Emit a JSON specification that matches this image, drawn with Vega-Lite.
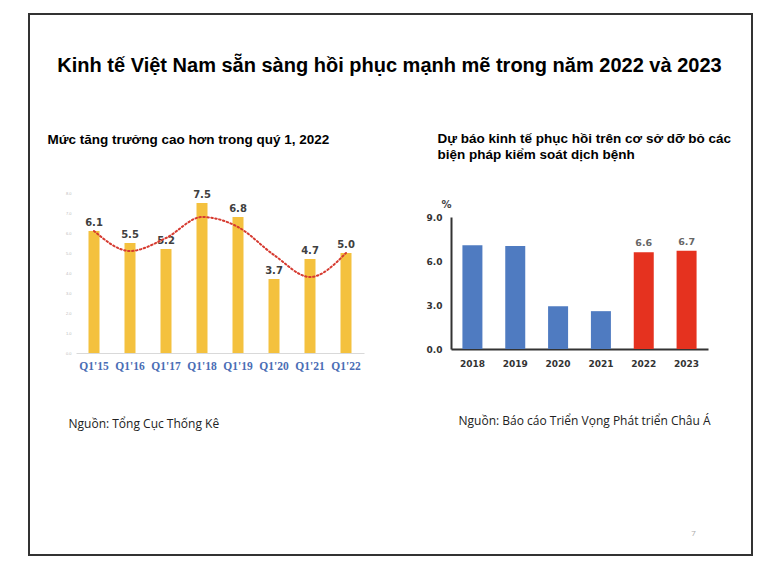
{
  "$schema": "https://vega.github.io/schema/vega-lite/v6.json",
  "width": 765,
  "height": 562,
  "padding": 0,
  "autosize": "none",
  "background": "white",
  "config": {
    "view": {"stroke": null},
    "axis": {"grid": false, "ticks": false}
  },
  "title": {
    "text": "Kinh tế Việt Nam sẵn sàng hồi phục mạnh mẽ trong năm 2022 và 2023",
    "font": "Liberation Sans",
    "fontSize": 20,
    "fontWeight": "bold",
    "color": "#000000",
    "anchor": "middle",
    "frame": "group",
    "offset": -76,
    "dx": 7
  },
  "datasets": {
    "frame": [{"lo": 0, "hi": 1}],
    "left": [
      {"q": "Q1'15", "v": 6.1, "trend": 6.1},
      {"q": "Q1'16", "v": 5.5, "trend": 5.1},
      {"q": "Q1'17", "v": 5.2, "trend": 5.75},
      {"q": "Q1'18", "v": 7.5, "trend": 6.8},
      {"q": "Q1'19", "v": 6.8, "trend": 6.3},
      {"q": "Q1'20", "v": 3.7, "trend": 4.9},
      {"q": "Q1'21", "v": 4.7, "trend": 3.8},
      {"q": "Q1'22", "v": 5.0, "trend": 5.0}
    ],
    "right": [
      {"year": "2018", "v": 7.08, "kind": "actual"},
      {"year": "2019", "v": 7.02, "kind": "actual"},
      {"year": "2020", "v": 2.91, "kind": "actual"},
      {"year": "2021", "v": 2.58, "kind": "actual"},
      {"year": "2022", "v": 6.6, "kind": "forecast"},
      {"year": "2023", "v": 6.7, "kind": "forecast"}
    ]
  },
  "layer": [
    {
      "data": {"name": "frame"},
      "mark": {"type": "rect", "fillOpacity": 0, "stroke": "#333333", "strokeWidth": 2},
      "encoding": {
        "x": {
          "field": "lo", "type": "quantitative",
          "scale": {"domain": [0, 1], "range": [29, 752], "nice": false, "zero": false},
          "axis": {
            "orient": "bottom", "offset": 0, "labels": false, "domain": false, "ticks": false,
            "title": "7", "titleX": 693, "titleY": -29, "titleAnchor": "start", "titleAlign": "center", "titleBaseline": "middle",
            "titleFont": "Open Sans", "titleFontSize": 8, "titleFontWeight": "normal", "titleColor": "#aaaaaa"
          }
        },
        "x2": {"field": "hi"},
        "y": {
          "field": "lo", "type": "quantitative",
          "scale": {"domain": [0, 1], "range": [555, 14], "nice": false, "zero": false},
          "axis": {
            "orient": "left", "offset": 0, "labels": false, "domain": false, "ticks": false,
            "title": ["Dự báo kinh tế phục hồi trên cơ sở dỡ bỏ các", "biện pháp kiểm soát dịch bệnh"],
            "titleX": 437, "titleY": 131, "titleAngle": 0, "titleAlign": "left", "titleBaseline": "top",
            "titleLineHeight": 16.5,
            "titleFont": "Liberation Sans", "titleFontSize": 13.5, "titleFontWeight": "bold", "titleColor": "#000000"
          }
        },
        "y2": {"field": "hi"}
      }
    },
    {
      "data": {"name": "left"},
      "encoding": {
        "x": {
          "field": "q", "type": "nominal", "sort": null,
          "scale": {"type": "band", "range": [76, 364], "paddingInner": 0, "paddingOuter": 0},
          "axis": {
            "orient": "bottom", "offset": -209, "labelAngle": 0, "labelPadding": 7,
            "labelFont": "Liberation Serif", "labelFontSize": 11.5, "labelFontWeight": "bold", "labelColor": "#4a6db5",
            "domainColor": "#d9d9d9", "domainWidth": 1,
            "title": "Nguồn: Tổng Cục Thống Kê", "titleX": 68, "titleY": 70, "titleAnchor": "start",
            "titleAlign": "left", "titleBaseline": "middle",
            "titleFont": "Open Sans", "titleFontSize": 12, "titleFontWeight": "normal", "titleColor": "#222222"
          }
        }
      },
      "layer": [
        {
          "mark": {"type": "bar", "size": 11, "color": "#f4c13e"},
          "encoding": {
            "y": {
              "field": "v", "type": "quantitative",
              "scale": {"domain": [0, 8], "range": [353, 193], "nice": false},
              "axis": {
                "orient": "left", "offset": -76, "values": [0, 1, 2, 3, 4, 5, 6, 7, 8], "format": ".1f",
                "labelFontSize": 4, "labelColor": "#bbbbbb", "labelPadding": 5, "domain": false,
                "title": "Mức tăng trưởng cao hơn trong quý 1, 2022",
                "titleX": -29, "titleY": 139, "titleAngle": 0, "titleAlign": "left", "titleBaseline": "middle",
                "titleFont": "Liberation Sans", "titleFontSize": 13.5, "titleFontWeight": "bold", "titleColor": "#000000"
              }
            }
          }
        },
        {
          "mark": {"type": "text", "dy": -8, "font": "DejaVu Sans", "fontSize": 10, "fontWeight": "bold", "color": "#404040"},
          "encoding": {
            "y": {"field": "v", "type": "quantitative"},
            "text": {"field": "v", "type": "quantitative", "format": ".1f"}
          }
        },
        {
          "mark": {"type": "line", "interpolate": "monotone", "color": "#d63a30", "strokeWidth": 2, "strokeDash": [1.5, 2.5], "strokeCap": "round"},
          "encoding": {
            "y": {"field": "trend", "type": "quantitative"}
          }
        }
      ]
    },
    {
      "data": {"name": "right"},
      "encoding": {
        "x": {
          "field": "year", "type": "nominal", "sort": null,
          "scale": {"type": "band", "range": [451, 708], "paddingInner": 0, "paddingOuter": 0},
          "axis": {
            "orient": "bottom", "offset": -213, "labelAngle": 0, "labelPadding": 10,
            "labelFont": "DejaVu Sans", "labelFontSize": 9, "labelFontWeight": "bold", "labelColor": "#333333",
            "domainColor": "#333333", "domainWidth": 2,
            "title": "Nguồn: Báo cáo Triển Vọng Phát triển Châu Á", "titleX": 458, "titleY": 71, "titleAnchor": "start",
            "titleAlign": "left", "titleBaseline": "middle",
            "titleFont": "Open Sans", "titleFontSize": 12, "titleFontWeight": "normal", "titleColor": "#222222"
          }
        }
      },
      "layer": [
        {
          "mark": {"type": "bar", "size": 20},
          "encoding": {
            "y": {
              "field": "v", "type": "quantitative",
              "scale": {"domain": [0, 9], "range": [349, 217], "nice": false},
              "axis": {
                "orient": "left", "offset": -451, "values": [0, 3, 6, 9], "format": ".1f",
                "labelFont": "DejaVu Sans", "labelFontSize": 9, "labelFontWeight": "bold", "labelColor": "#333333", "labelPadding": 9,
                "domainColor": "#333333", "domainWidth": 2,
                "title": "%", "titleX": -5, "titleY": 204, "titleAngle": 0, "titleAlign": "center", "titleBaseline": "middle",
                "titleFont": "DejaVu Sans", "titleFontSize": 10, "titleFontWeight": "bold", "titleColor": "#444444"
              }
            },
            "color": {
              "field": "kind", "type": "nominal",
              "scale": {"domain": ["actual", "forecast"], "range": ["#4f7bc1", "#e5321f"]},
              "legend": null
            }
          }
        },
        {
          "transform": [{"filter": "datum.kind === 'forecast'"}],
          "mark": {"type": "text", "dy": -9, "font": "DejaVu Sans", "fontSize": 9.5, "fontWeight": "bold", "color": "#666666"},
          "encoding": {
            "y": {"field": "v", "type": "quantitative"},
            "text": {"field": "v", "type": "quantitative", "format": ".1f"}
          }
        }
      ]
    }
  ],
  "resolve": {
    "scale": {"x": "independent", "y": "independent"},
    "axis": {"x": "independent", "y": "independent"}
  }
}
